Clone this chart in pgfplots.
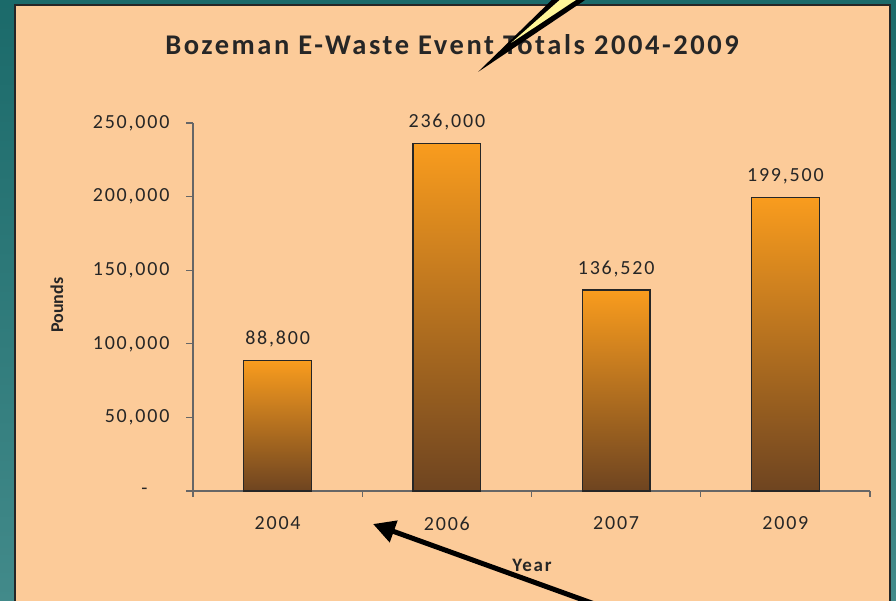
\documentclass[border=0pt]{standalone}
\usepackage{fontspec}
\setmainfont{Carlito}
\newfontfamily\spaced{Carlito}[LetterSpace=9]
\newfontfamily\spacedb{Carlito}[LetterSpace=9]
\usepackage{pgfplots}
\pgfplotsset{compat=1.18}
\usetikzlibrary{arrows.meta}
\definecolor{panel}{HTML}{FCCB99}
\definecolor{tealTop}{HTML}{1B6A6A}
\definecolor{tealBot}{HTML}{428A8A}
\definecolor{barTop}{HTML}{F99C1E}
\definecolor{barMid}{HTML}{D0802B}
\definecolor{barBot}{HTML}{6E4420}
\definecolor{txt}{HTML}{262626}
\definecolor{pointer}{HTML}{FFF799}

\pgfplotsset{
  eventbar/.style={ybar, bar width=0.4, bar shift=0pt, draw=txt, line width=1.2pt,
    top color=barTop, middle color=barMid, bottom color=barBot,
    point meta=explicit symbolic, nodes near coords,
    nodes near coords style={anchor=base, yshift=16pt,
      font=\spaced\fontsize{20}{23}\selectfont, text=txt}},
}

\begin{document}
\begin{tikzpicture}[x=1pt,y=1pt]
  \useasboundingbox (0,0) rectangle (896,601);
  % slide background and chart panel
  \shade[top color=tealTop, bottom color=tealBot] (0,0) rectangle (896,601);
  \fill[panel] (15,-2) rectangle (890,596);
  \draw[black!85, line width=1.5pt] (15,-2) -- (15,596) -- (890,596) -- (890,-2);

  \begin{axis}[
      at={(193pt,110pt)}, anchor=south west,
      scale only axis, width=677pt, height=368pt,
      xmin=-0.5, xmax=3.5, ymin=0, ymax=250000,
      scaled y ticks=false,
      axis lines*=left,
      axis line style={draw=black!60, line width=1.2pt},
      tick style={draw=black!60, line width=1.2pt},
      tick align=outside,
      major tick length=7pt, minor tick length=6pt,
      xtick={0,1,2,3},
      xticklabels={2004,2006,2007,2009},
      major x tick style={draw=none},
      minor xtick={-0.5,0.5,1.5,2.5,3.5},
      ytick={0,50000,100000,150000,200000,250000},
      yticklabels={{\makebox[28pt][l]{-}},{50,000},{100,000},{150,000},{200,000},{250,000}},
      ticklabel style={font=\spaced\fontsize{20}{23}\selectfont, text=txt},
      yticklabel style={xshift=-13pt},
      xticklabel style={yshift=-15pt},
      xlabel={Year},
      xlabel style={at={(axis description cs:0.5007,-0.203)}, anchor=center,
        font=\spacedb\bfseries\fontsize{19}{22}\selectfont, text=txt},
      ylabel={Pounds},
      ylabel style={at={(axis description cs:-0.201,0.505)}, anchor=center,
        font=\bfseries\fontsize{18}{22}\selectfont, text=txt},
      title={Bozeman E-Waste Event Totals 2004-2009},
      title style={at={(axis description cs:0.3826,1.171)}, anchor=base,
        font=\spacedb\bfseries\fontsize{28.5}{32}\selectfont, text=txt},
      clip=false,
    ]
    \addplot[eventbar] coordinates {(0,88800)[88,800]};
    \addplot[eventbar] coordinates {(1,236000)[236,000]};
    \addplot[eventbar] coordinates {(2,136520)[136,520]};
    \addplot[eventbar] coordinates {(3,199500)[199,500]};
  \end{axis}

  % pointer arrows on the slide
  \fill[black] (478,529) -- (562,611) -- (600,611) -- cycle;
  \fill[pointer] (511,558) -- (571,611) -- (591,611) -- cycle;
  \draw[line width=5pt, -{Triangle[length=22pt,width=22pt]}] (600,-5) -- (373,77);
\end{tikzpicture}
\end{document}
